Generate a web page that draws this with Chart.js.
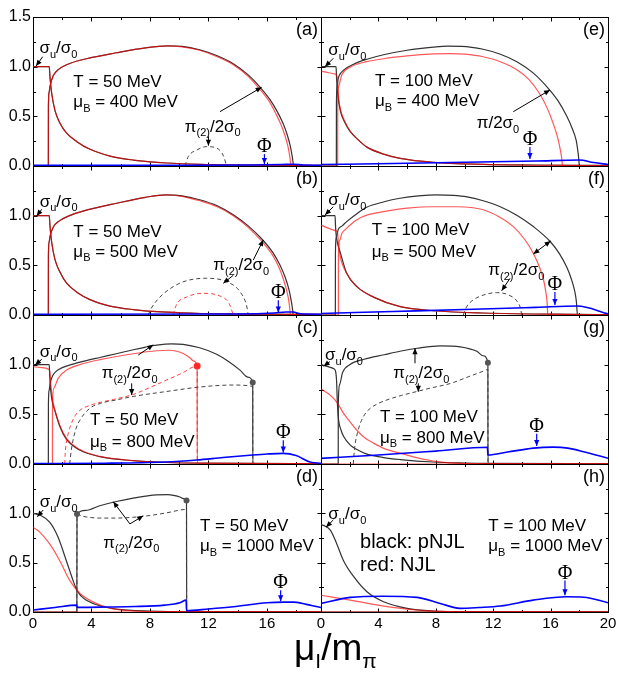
<!DOCTYPE html>
<html>
<head>
<meta charset="utf-8">
<script src="https://cdn.jsdelivr.net/npm/chart.js@4.4.1/dist/chart.umd.min.js"></script>
<style>
  html, body { margin: 0; padding: 0; background: #fff; width: 618px; height: 675px; overflow: hidden; }
  #fig { position: relative; width: 618px; height: 675px; }
  #fig canvas { position: absolute; }
  #xtitle { position: absolute; left: 294px; top: 629px; font-family: 'Liberation Sans', Arial, sans-serif;
            font-size: 37px; line-height: 37px; color: #000; white-space: nowrap; }
  #xtitle span { font-size: 21px; position: relative; top: 8px; }
</style>
</head>
<body>
<div id="fig">
  <div id="xtitle">μ<span>I</span>/m<span>π</span></div>
</div>
<script>
// ---------------- axis ticks ----------------
const xTicks = [0, 4, 8, 12, 16, 20];
const yTicks = [0, 0.5, 1.0, 1.5];

// ---------------- panel parameters ----------------
const panelTags = ['(a)', '(b)', '(c)', '(d)', '(e)', '(f)', '(g)', '(h)'];
const T_MeV   = [50, 50, 50, 50, 100, 100, 100, 100];
const muB_MeV = [400, 500, 800, 1000, 400, 500, 800, 1000];

// ---------------- (a) T = 50 MeV, muB = 400 MeV ----------------
const a_sigmaBlack = [[0,1.0],[1.11,1.0],[1.16,0.9],[1.28,0.73],[1.5,0.56],[1.85,0.43],[2.3,0.33],[3.0,0.245],[3.9,0.168],[5.27,0.10],[6.86,0.06],[9.15,0.03],[11.5,0.016],[14,0.01],[17.8,0.006],[20,0.006]];
const a_sigmaRed   = [[0,1.0],[1.11,1.0],[1.16,0.9],[1.28,0.73],[1.5,0.56],[1.85,0.43],[2.3,0.33],[3.0,0.245],[3.9,0.168],[5.27,0.10],[6.86,0.06],[9.15,0.03],[11.5,0.016],[14,0.01],[17.65,0.006],[20,0.006]];
const a_piBlack = [[0,0],[1.05,0],[1.055,0.6],[1.1,0.74],[1.16,0.8],[1.39,0.91],[1.73,0.97],[2.3,1.02],[3.66,1.08],[5.7,1.14],[7.7,1.19],[9.2,1.21],[10.2,1.205],[11.4,1.17],[12.6,1.11],[13.7,1.03],[14.7,0.92],[15.5,0.80],[16.2,0.67],[16.7,0.55],[17.1,0.43],[17.4,0.31],[17.6,0.2],[17.75,0.08],[17.83,0],[20,0]];
const a_piRed   = [[0,0],[1.05,0],[1.055,0.6],[1.1,0.74],[1.16,0.8],[1.39,0.91],[1.73,0.97],[2.3,1.02],[3.66,1.08],[5.7,1.14],[7.7,1.19],[9.2,1.21],[10.2,1.2],[11.4,1.165],[12.6,1.1],[13.7,1.02],[14.7,0.905],[15.5,0.775],[16.2,0.64],[16.6,0.53],[16.95,0.42],[17.25,0.3],[17.45,0.19],[17.58,0.08],[17.65,0],[20,0]];
const a_pi2Black = [[10.39,0],[10.62,0.094],[11.2,0.16],[11.87,0.195],[12.56,0.18],[13.0,0.11],[13.25,0]];
const a_phi = [[0,0.008],[10,0.008],[15,0.01],[17,0.015],[17.8,0.018],[18.5,0.01],[20,0.008]];

// ---------------- (b) T = 50 MeV, muB = 500 MeV ----------------
const b_sigmaBlack = [[0,1.0],[1.11,1.0],[1.16,0.9],[1.28,0.73],[1.5,0.56],[1.85,0.43],[2.3,0.32],[3.0,0.23],[3.9,0.155],[5.27,0.09],[6.86,0.055],[9.15,0.028],[11.5,0.015],[14,0.01],[17.8,0.006],[20,0.006]];
const b_sigmaRed   = [[0,1.0],[1.11,1.0],[1.16,0.9],[1.28,0.73],[1.5,0.56],[1.85,0.43],[2.3,0.32],[3.0,0.23],[3.9,0.155],[5.27,0.09],[6.86,0.055],[9.15,0.028],[11.5,0.015],[14,0.01],[17.6,0.006],[20,0.006]];
const b_piBlack = [[0,0],[1.05,0],[1.055,0.6],[1.1,0.73],[1.16,0.79],[1.37,0.88],[1.83,0.95],[2.5,1.0],[3.42,1.045],[5.71,1.125],[7.7,1.185],[9.1,1.21],[10.2,1.2],[11.4,1.16],[12.6,1.1],[13.7,1.01],[14.7,0.9],[15.75,0.75],[16.4,0.63],[16.9,0.5],[17.25,0.38],[17.5,0.26],[17.68,0.13],[17.77,0.04],[17.8,0],[20,0]];
const b_piRed   = [[0,0],[1.05,0],[1.055,0.6],[1.1,0.73],[1.16,0.79],[1.37,0.88],[1.83,0.95],[2.5,1.0],[3.42,1.045],[5.71,1.125],[7.7,1.185],[9.1,1.21],[10.2,1.195],[11.4,1.15],[12.6,1.09],[13.7,1.0],[14.7,0.885],[15.75,0.725],[16.4,0.6],[16.85,0.47],[17.15,0.35],[17.38,0.23],[17.52,0.12],[17.58,0.04],[17.6,0],[20,0]];
const b_pi2Black = [[7.88,0],[8.1,0.07],[8.68,0.18],[9.59,0.285],[10.5,0.345],[11.87,0.37],[13.25,0.335],[14.16,0.235],[14.6,0.1],[14.73,0]];
const b_pi2Red   = [[9.59,0],[9.8,0.1],[10.5,0.18],[11.6,0.218],[12.8,0.19],[13.4,0.12],[13.7,0]];
const b_phi = [[0,0.008],[14,0.01],[16.5,0.02],[17.3,0.03],[17.8,0.03],[18.3,0.012],[20,0.008]];

// ---------------- (c) T = 50 MeV, muB = 800 MeV ----------------
const c_sigmaBlack = [[0,1.0],[1.11,1.0],[1.14,0.9],[1.2,0.76],[1.3,0.64],[1.49,0.54],[1.83,0.38],[2.28,0.25],[3.2,0.14],[4.57,0.074],[6.85,0.033],[9.14,0.015],[11.2,0.008],[20,0.004]];
const c_sigmaRed   = [[0,0.98],[0.6,0.97],[1.05,0.955],[1.15,0.93],[1.22,0.8],[1.3,0.68],[1.45,0.57],[1.83,0.39],[2.28,0.26],[3.2,0.145],[4.57,0.076],[6.85,0.034],[9.14,0.015],[11.23,0.008],[20,0.004]];
const c_piBlack = [[0,0],[1.05,0],[1.055,0.6],[1.1,0.74],[1.2,0.83],[1.35,0.89],[1.6,0.935],[2.0,0.97],[2.74,1.005],[3.5,1.035],[4.57,1.072],[5.7,1.11],[6.85,1.15],[7.7,1.177],[8.45,1.197],[9.5,1.21],[10.27,1.205],[11.4,1.17],[12.56,1.105],[13.4,1.03],[14.16,0.945],[14.7,0.875],[15.03,0.82],[15.035,0],[20,0]];
const c_piRed   = [[0,0],[1.33,0],[1.335,0.62],[1.42,0.76],[1.71,0.86],[2.28,0.945],[3.2,1.0],[4.57,1.05],[6.85,1.11],[8.45,1.14],[9.3,1.145],[9.82,1.135],[10.3,1.11],[10.73,1.07],[11.0,1.035],[11.23,0.987],[11.235,0],[20,0]];
const c_pi2Black = [[2.51,0],[2.6,0.12],[2.74,0.24],[2.95,0.36],[3.2,0.44],[3.88,0.56],[4.6,0.61],[5.71,0.645],[6.85,0.68],[9.14,0.73],[11.42,0.775],[13.7,0.795],[15.03,0.78],[15.035,0]];
const c_pi2Red   = [[2.17,0],[2.2,0.1],[2.28,0.21],[2.45,0.33],[2.63,0.41],[2.9,0.49],[3.2,0.54],[4.1,0.6],[5.5,0.65],[6.85,0.70],[8,0.77],[9.14,0.845],[10.2,0.915],[11.23,0.987],[11.235,0]];
const c_dotsBlack = [[15.03,0.82]];
const c_dotsRed   = [[11.23,0.987]];
const c_phi = [[0,0.005],[5,0.008],[9,0.02],[11.2,0.04],[13,0.065],[15.03,0.09],[16,0.1],[17.1,0.107],[18,0.085],[18.95,0.02],[20,0.005]];

// ---------------- (d) T = 50 MeV, muB = 1000 MeV ----------------
const d_sigmaBlack = [[0,1.0],[0.5,0.98],[1.14,0.91],[1.71,0.76],[2.28,0.52],[2.74,0.32],[3.0,0.22],[3.3,0.16],[3.65,0.12],[4.57,0.063],[5.7,0.03],[8,0.01],[11,0.003],[20,0.002]];
const d_sigmaRed   = [[0,0.86],[0.46,0.81],[1.14,0.69],[1.83,0.52],[2.51,0.32],[3.2,0.19],[4.13,0.10],[5.25,0.04],[6.5,0.015],[8,0.005],[20,0.002]];
const d_piBlack = [[0,0],[3.0,0],[3.01,0.994],[3.6,1.03],[4.57,1.077],[5.7,1.12],[6.85,1.155],[7.7,1.175],[8.45,1.188],[9.2,1.19],[9.7,1.18],[10.05,1.165],[10.3,1.15],[10.5,1.13],[10.51,0],[20,0]];
const d_piRed   = [[0,0],[20,0]];
const d_pi2Black = [[3.0,0],[3.01,0.994],[3.3,0.975],[3.65,0.963],[4.57,0.952],[5.7,0.952],[6.85,0.96],[8,0.978],[9.14,1.005],[10.5,1.04],[10.51,0]];
const d_dotsBlack = [[3.01,0.994],[10.5,1.13]];
const d_phi = [[0,0.02],[1.5,0.045],[3.0,0.07],[3.02,0.047],[5,0.05],[7,0.055],[9,0.07],[10.05,0.094],[10.48,0.12],[10.5,0.013],[12,0.03],[13.7,0.053],[16,0.094],[17.2,0.1],[17.8,0.1],[18.7,0.077],[19.7,0.045],[20,0.04]];

// ---------------- (e) T = 100 MeV, muB = 400 MeV ----------------
const e_sigmaBlack = [[0,1.0],[1.05,1.0],[1.08,0.9],[1.12,0.8],[1.16,0.73],[1.34,0.56],[1.69,0.43],[2.04,0.345],[2.62,0.26],[3.2,0.19],[4.36,0.12],[5.52,0.077],[7.84,0.037],[11.3,0.017],[15,0.01],[18,0.006],[20,0.005]];
const e_sigmaRed   = [[0,0.955],[0.5,0.94],[1.0,0.925],[1.12,0.9],[1.17,0.8],[1.22,0.7],[1.34,0.58],[1.69,0.44],[2.04,0.35],[2.62,0.26],[3.2,0.19],[4.36,0.12],[5.52,0.077],[7.84,0.037],[11.3,0.017],[16.83,0.006],[20,0.005]];
const e_piBlack = [[0,0],[1.07,0],[1.075,0.62],[1.12,0.8],[1.2,0.88],[1.35,0.93],[1.57,0.965],[2.27,1.025],[3.2,1.075],[4.36,1.12],[6.0,1.165],[7.84,1.197],[8.8,1.207],[9.8,1.205],[11.3,1.175],[12.5,1.125],[13.65,1.05],[14.8,0.935],[15.85,0.78],[16.5,0.66],[17.13,0.5],[17.5,0.38],[17.78,0.26],[17.9,0.15],[17.97,0.06],[18.0,0],[20,0]];
const e_piRed   = [[0,0],[1.16,0],[1.165,0.62],[1.22,0.8],[1.46,0.92],[2.04,0.995],[3.2,1.05],[4.36,1.08],[6,1.108],[7.84,1.128],[9,1.132],[10,1.126],[11.3,1.1],[12.5,1.05],[13.65,0.97],[14.5,0.87],[15.27,0.72],[15.8,0.57],[16.2,0.42],[16.5,0.28],[16.68,0.16],[16.79,0.06],[16.83,0],[20,0]];
const e_phi = [[0,0.015],[5,0.025],[10,0.037],[15,0.05],[18.0,0.06],[19,0.035],[20,0.015]];

// ---------------- (f) T = 100 MeV, muB = 500 MeV ----------------
const f_sigmaBlack = [[0,1.0],[0.98,1.0],[1.01,0.9],[1.06,0.8],[1.15,0.72],[1.32,0.64],[1.79,0.42],[2.5,0.285],[3.66,0.18],[5.52,0.084],[7.84,0.043],[11.3,0.02],[17.9,0.006],[20,0.004]];
const f_sigmaRed   = [[0,0.905],[0.5,0.875],[1.0,0.85],[1.15,0.83],[1.2,0.75],[1.27,0.65],[1.4,0.55],[1.79,0.42],[2.5,0.285],[3.66,0.18],[5.52,0.084],[7.84,0.043],[11.3,0.02],[15.8,0.008],[20,0.004]];
const f_piBlack = [[0,0],[1.0,0],[1.005,0.62],[1.06,0.78],[1.2,0.86],[1.5,0.9],[1.79,0.94],[2.5,1.02],[3.18,1.085],[4.4,1.14],[5.5,1.175],[6.8,1.2],[8.08,1.21],[9.2,1.205],[10.17,1.19],[11.3,1.15],[12.49,1.09],[13.7,1.0],[14.8,0.89],[15.97,0.74],[16.6,0.62],[17.13,0.48],[17.45,0.36],[17.68,0.24],[17.8,0.13],[17.87,0],[20,0]];
const f_piRed   = [[0,0],[1.21,0],[1.215,0.6],[1.3,0.75],[1.45,0.82],[1.69,0.86],[2.5,0.96],[3.3,1.01],[4.36,1.04],[6,1.075],[7.84,1.09],[9.5,1.09],[11.3,1.06],[12.4,0.99],[13.4,0.89],[14.2,0.76],[14.8,0.62],[15.2,0.49],[15.5,0.36],[15.68,0.22],[15.77,0.1],[15.8,0],[20,0]];
const f_pi2Black = [[9.92,0],[10.1,0.07],[10.5,0.14],[11.3,0.2],[12.24,0.225],[13.1,0.2],[13.7,0.13],[13.93,0.05],[13.98,0]];
const f_phi = [[0,0.015],[5,0.035],[10,0.055],[15,0.077],[17.87,0.09],[20,0.012]];

// ---------------- (g) T = 100 MeV, muB = 800 MeV ----------------
const g_sigmaBlack = [[0,1.0],[0.5,0.98],[0.88,0.96],[1.0,0.94],[1.08,0.85],[1.14,0.62],[1.22,0.45],[1.4,0.34],[1.57,0.28],[2.04,0.19],[2.5,0.145],[3.2,0.1],[4.36,0.065],[5.52,0.045],[7.8,0.02],[10,0.01],[11.63,0.006],[20,0.003]];
const g_sigmaRed   = [[0,0.755],[0.5,0.71],[0.88,0.66],[1.2,0.6],[1.57,0.51],[2.0,0.43],[2.5,0.34],[3.0,0.27],[3.66,0.21],[4.5,0.15],[5.52,0.11],[6.5,0.07],[7.84,0.03],[9,0.012],[10.5,0.004],[20,0.001]];
const g_piBlack = [[0,0],[1.2,0],[1.205,0.6],[1.3,0.8],[1.5,0.92],[2.0,1.0],[3.0,1.055],[4.4,1.1],[5.5,1.135],[6.7,1.165],[8.3,1.19],[9.7,1.18],[10.86,1.135],[11.3,1.09],[11.63,1.02],[11.635,0],[20,0]];
const g_piRed   = [[0,0],[20,0]];
const g_pi2Black = [[2.25,0],[2.3,0.1],[2.39,0.21],[2.55,0.32],[2.74,0.41],[3.05,0.5],[3.43,0.56],[4.0,0.61],[4.6,0.645],[5.6,0.69],[6.69,0.73],[7.8,0.77],[9.0,0.81],[10.3,0.88],[11.56,0.95],[11.63,0.955],[11.635,0]];
const g_dotsBlack = [[11.63,1.02]];
const g_phi = [[0,0.057],[4,0.09],[8,0.13],[11.6,0.168],[11.63,0.09],[13,0.12],[14.8,0.16],[16.2,0.17],[17.2,0.16],[18.3,0.124],[20,0.057]];

// ---------------- (h) T = 100 MeV, muB = 1000 MeV ----------------
const h_sigmaBlack = [[0,0.89],[0.65,0.83],[1.1,0.69],[1.57,0.52],[2.27,0.36],[3.2,0.205],[4.36,0.104],[6.0,0.037],[7.84,0.01],[10,0.003],[20,0.001]];
const h_sigmaRed   = [[0,0.17],[2.04,0.12],[4.36,0.06],[6.7,0.02],[9.0,0.005],[20,0]];
const h_piBlack = [[0,0],[20,0]];
const h_piRed   = [[0,0],[20,0]];
const h_phi = [[0,0.087],[2.04,0.148],[4.36,0.16],[6.7,0.148],[8.3,0.087],[9.7,0.037],[11,0.045],[12.5,0.06],[14.8,0.12],[17.1,0.154],[18.3,0.15],[20,0.094]];

// ---------------- styles ----------------
const SANS = "'Liberation Sans', Arial, Helvetica, sans-serif";
const SERIF = "'Liberation Serif', 'Times New Roman', serif";
const BLACK = '#333333';
const RED = 'rgba(255,0,0,0.66)';
const BLUE = '#0000ff';
const DASH_BLACK = '#444444';
const DASH_RED = 'rgba(255,30,30,0.85)';

// label shorthands
const SIG = ['σ', {sub: 'u'}, '/σ', {sub: '0'}];
const PI2 = ['π', {sub: '(2)'}, '/2σ', {sub: '0'}];
const tLine = i => ['T = ' + T_MeV[i] + ' MeV'];
const mLine = i => ['μ', {sub: 'B'}, ' = ' + muB_MeV[i] + ' MeV'];

// annotations (data coordinates of each panel)
const notes = [
  [ // (a)
    {t: 'text', x: 0.44, y: 1.138, parts: SIG},
    {t: 'arrow', x1: 0.66, y1: 1.10, x2: 0.21, y2: 1.006},
    {t: 'text', x: 2.76, y: 0.792, parts: tLine(0)},
    {t: 'text', x: 2.76, y: 0.59, parts: mLine(0)},
    {t: 'text', x: 10.38, y: 0.345, parts: PI2},
    {t: 'arrow', x1: 12.0, y1: 0.30, x2: 12.0, y2: 0.205},
    {t: 'arrow', x1: 12.79, y1: 0.547, x2: 15.64, y2: 0.792},
    {t: 'phi', x: 15.83, y: 0.14, y2: 0.02}
  ],
  [ // (b)
    {t: 'text', x: 0.46, y: 1.09, parts: SIG},
    {t: 'arrow', x1: 0.6, y1: 1.064, x2: 0.25, y2: 0.997},
    {t: 'text', x: 2.76, y: 0.788, parts: tLine(1)},
    {t: 'text', x: 2.76, y: 0.587, parts: mLine(1)},
    {t: 'text', x: 12.33, y: 0.453, parts: PI2},
    {t: 'arrow', x1: 13.7, y1: 0.40, x2: 13.02, y2: 0.319},
    {t: 'arrow', x1: 15.07, y1: 0.554, x2: 15.75, y2: 0.755},
    {t: 'phi', x: 16.78, y: 0.168, y2: 0.025}
  ],
  [ // (c)
    {t: 'text', x: 0.46, y: 1.08, parts: SIG},
    {t: 'arrow', x1: 0.6, y1: 1.054, x2: 0.14, y2: 0.997},
    {t: 'text', x: 4.7, y: 0.863, parts: PI2},
    {t: 'arrow', x1: 7.2, y1: 1.097, x2: 8.23, y2: 1.2},
    {t: 'arrow', x1: 6.75, y1: 0.812, x2: 6.75, y2: 0.695},
    {t: 'text', x: 3.9, y: 0.393, parts: tLine(2)},
    {t: 'text', x: 3.9, y: 0.174, parts: mLine(2)},
    {t: 'phi', x: 17.12, y: 0.259, y2: 0.115}
  ],
  [ // (d)
    {t: 'text', x: 0.46, y: 1.06, parts: SIG},
    {t: 'arrow', x1: 0.7, y1: 1.034, x2: 0.29, y2: 0.966},
    {t: 'text', x: 4.81, y: 0.651, parts: PI2},
    {t: 'arrow', x1: 6.63, y1: 0.893, x2: 5.49, y2: 1.118},
    {t: 'arrow', x1: 6.63, y1: 0.893, x2: 7.54, y2: 0.975},
    {t: 'text', x: 11.42, y: 0.826, parts: tLine(3)},
    {t: 'text', x: 11.42, y: 0.617, parts: mLine(3)},
    {t: 'phi', x: 16.94, y: 0.24, y2: 0.11}
  ],
  [ // (e)
    {t: 'text', x: 0.51, y: 1.117, parts: SIG},
    {t: 'arrow', x1: 0.86, y1: 1.084, x2: 0.28, y2: 1.0},
    {t: 'text', x: 3.76, y: 0.805, parts: tLine(4)},
    {t: 'text', x: 3.76, y: 0.604, parts: mLine(4)},
    {t: 'text', x: 10.85, y: 0.38, parts: ['π/2σ', {sub: '0'}]},
    {t: 'arrow', x1: 13.4, y1: 0.547, x2: 15.96, y2: 0.765},
    {t: 'phi', x: 14.56, y: 0.211, y2: 0.07}
  ],
  [ // (f)
    {t: 'text', x: 0.51, y: 1.107, parts: SIG},
    {t: 'arrow', x1: 0.86, y1: 1.09, x2: 0.28, y2: 1.007},
    {t: 'text', x: 3.53, y: 0.805, parts: tLine(5)},
    {t: 'text', x: 3.53, y: 0.587, parts: mLine(5)},
    {t: 'text', x: 11.66, y: 0.403, parts: PI2},
    {t: 'arrow', x1: 13.17, y1: 0.369, x2: 12.59, y2: 0.245},
    {t: 'arrow', x1: 14.8, y1: 0.615, x2: 16.0, y2: 0.745, both: true},
    {t: 'phi', x: 16.3, y: 0.252, y2: 0.1}
  ],
  [ // (g)
    {t: 'text', x: 0.28, y: 1.047, parts: SIG},
    {t: 'arrow', x1: 0.62, y1: 1.03, x2: 0.18, y2: 0.985},
    {t: 'text', x: 5.04, y: 0.863, parts: PI2},
    {t: 'arrow', x1: 6.55, y1: 1.014, x2: 6.55, y2: 1.165},
    {t: 'arrow', x1: 6.78, y1: 0.812, x2: 6.78, y2: 0.728},
    {t: 'text', x: 4.11, y: 0.426, parts: tLine(6)},
    {t: 'text', x: 4.11, y: 0.215, parts: mLine(6)},
    {t: 'phi', x: 15.03, y: 0.325, y2: 0.18}
  ],
  [ // (h)
    {t: 'text', x: 0.51, y: 0.943, parts: SIG},
    {t: 'arrow', x1: 0.86, y1: 0.933, x2: 0.35, y2: 0.859},
    {t: 'text', x: 2.72, y: 0.651, parts: ['black: pNJL'], size: 20},
    {t: 'text', x: 2.72, y: 0.413, parts: ['red: NJL'], size: 20},
    {t: 'text', x: 11.66, y: 0.826, parts: tLine(7)},
    {t: 'text', x: 11.66, y: 0.617, parts: mLine(7)},
    {t: 'phi', x: 17.0, y: 0.339, y2: 0.17}
  ]
];

// ---------------- panel table ----------------
const panels = [
  {col: 0, row: 0, sB: a_sigmaBlack, sR: a_sigmaRed, pB: a_piBlack, pR: a_piRed, p2B: a_pi2Black, phi: a_phi},
  {col: 0, row: 1, sB: b_sigmaBlack, sR: b_sigmaRed, pB: b_piBlack, pR: b_piRed, p2B: b_pi2Black, p2R: b_pi2Red, phi: b_phi},
  {col: 0, row: 2, sB: c_sigmaBlack, sR: c_sigmaRed, pB: c_piBlack, pR: c_piRed, p2B: c_pi2Black, p2R: c_pi2Red, dB: c_dotsBlack, dR: c_dotsRed, phi: c_phi},
  {col: 0, row: 3, sB: d_sigmaBlack, sR: d_sigmaRed, pB: d_piBlack, pR: d_piRed, p2B: d_pi2Black, dB: d_dotsBlack, phi: d_phi},
  {col: 1, row: 0, sB: e_sigmaBlack, sR: e_sigmaRed, pB: e_piBlack, pR: e_piRed, phi: e_phi},
  {col: 1, row: 1, sB: f_sigmaBlack, sR: f_sigmaRed, pB: f_piBlack, pR: f_piRed, p2B: f_pi2Black, phi: f_phi},
  {col: 1, row: 2, sB: g_sigmaBlack, sR: g_sigmaRed, pB: g_piBlack, pR: g_piRed, p2B: g_pi2Black, dB: g_dotsBlack, phi: g_phi},
  {col: 1, row: 3, sB: h_sigmaBlack, sR: h_sigmaRed, pB: h_piBlack, pR: h_piRed, phi: h_phi}
];

// ---------------- geometry of the 2 x 4 grid ----------------
const COL_L = [33, 321], COL_R = [321, 608];
const ROW_T = [17, 166, 315, 464], ROW_B = [166, 315, 464, 612];
const X_MAX = [19.7, 20];

// ---------------- helpers ----------------
function curve(data, color, width, dash) {
  return {
    data: data.map(p => ({x: p[0], y: p[1]})),
    borderColor: color, borderWidth: width, borderDash: dash || [],
    borderJoinStyle: 'round', pointRadius: 0, fill: false,
    cubicInterpolationMode: 'monotone', showLine: true
  };
}
function dots(data, color, r) {
  return {
    data: data.map(p => ({x: p[0], y: p[1]})),
    showLine: false, pointRadius: r, pointBackgroundColor: color,
    pointBorderColor: color, pointBorderWidth: 0, borderColor: color
  };
}
function drawRich(ctx, x, y, parts, size, align) {
  const big = size + 'px ' + SANS;
  const small = Math.round(size * 0.65) + 'px ' + SANS;
  let w = 0;
  parts.forEach(p => {
    const sub = typeof p !== 'string';
    ctx.font = sub ? small : big;
    w += ctx.measureText(sub ? p.sub : p).width;
  });
  let cx = align === 'right' ? x - w : x;
  parts.forEach(p => {
    const sub = typeof p !== 'string';
    const s = sub ? p.sub : p;
    ctx.font = sub ? small : big;
    ctx.fillText(s, cx, sub ? y + size * 0.27 : y);
    cx += ctx.measureText(s).width;
  });
}
function arrowHead(ctx, x1, y1, x2, y2, len, half) {
  const a = Math.atan2(y2 - y1, x2 - x1);
  const c = Math.cos(a), s = Math.sin(a);
  ctx.beginPath();
  ctx.moveTo(x2, y2);
  ctx.lineTo(x2 - len * c + half * s, y2 - len * s - half * c);
  ctx.lineTo(x2 - len * c - half * s, y2 - len * s + half * c);
  ctx.closePath();
  ctx.fill();
}
function arrow(ctx, x1, y1, x2, y2, color, both, width) {
  ctx.strokeStyle = color; ctx.fillStyle = color; ctx.lineWidth = width || 1;
  ctx.beginPath(); ctx.moveTo(x1, y1); ctx.lineTo(x2, y2); ctx.stroke();
  arrowHead(ctx, x1, y1, x2, y2, 6, 2.6);
  if (both) arrowHead(ctx, x2, y2, x1, y1, 6, 2.6);
}

// frame with inward major / minor ticks on all four sides
const framePlugin = {
  id: 'frame',
  beforeDatasetsDraw(chart) {
    const {ctx, chartArea: a, scales: {x, y}} = chart;
    const L = Math.round(a.left) + 0.5, R = Math.round(a.right) + 0.5;
    const T = Math.round(a.top) + 0.5, B = Math.round(a.bottom) + 0.5;
    ctx.save();
    ctx.strokeStyle = '#000'; ctx.lineWidth = 1;
    ctx.strokeRect(L, T, R - L, B - T);
    ctx.beginPath();
    for (let v = 0; v <= x.max + 1e-9; v += 2) {
      const px = Math.round(x.getPixelForValue(v)) + 0.5;
      const len = v % 4 === 0 ? 4 : 2.5;
      ctx.moveTo(px, B); ctx.lineTo(px, B - len);
      ctx.moveTo(px, T); ctx.lineTo(px, T + len);
    }
    for (let i = 0; i <= 6; i++) {
      const py = Math.round(y.getPixelForValue(i * 0.25)) + 0.5;
      const len = i % 2 === 0 ? 4 : 2.5;
      ctx.moveTo(L, py); ctx.lineTo(L + len, py);
      ctx.moveTo(R, py); ctx.lineTo(R - len, py);
    }
    ctx.stroke();
    ctx.restore();
  }
};

function notesPlugin(idx) {
  return {
    id: 'notes' + idx,
    afterDatasetsDraw(chart) {
      const {ctx, scales: {x, y}} = chart;
      const X = v => x.getPixelForValue(v), Y = v => y.getPixelForValue(v);
      ctx.save();
      ctx.textBaseline = 'alphabetic';
      ctx.fillStyle = '#000';
      notes[idx].forEach(n => {
        if (n.t === 'text') {
          ctx.fillStyle = '#000';
          drawRich(ctx, X(n.x), Y(n.y), n.parts, n.size || 17, 'left');
        } else if (n.t === 'arrow') {
          arrow(ctx, X(n.x1), Y(n.y1), X(n.x2), Y(n.y2), '#000', n.both, 1);
        } else if (n.t === 'phi') {
          ctx.fillStyle = '#000';
          ctx.font = '20px ' + SERIF;
          ctx.textAlign = 'center';
          ctx.fillText('Φ', X(n.x), Y(n.y));
          ctx.textAlign = 'left';
          arrow(ctx, X(n.x), Y(n.y) + 2, X(n.x), Y(n.y2), BLUE, false, 1.2);
        }
      });
      // panel tag in the upper right corner
      ctx.fillStyle = '#000';
      drawRich(ctx, chart.chartArea.right - 3, chart.chartArea.top + 18, [panelTags[idx]], 18, 'right');
      ctx.restore();
    }
  };
}

// ---------------- build the eight panels ----------------
const fig = document.getElementById('fig');
panels.forEach((p, idx) => {
  const yW = p.col === 0 ? 33 : 0;
  const xH = p.row === 3 ? 26 : 0;
  const padL = p.col === 0 ? 0 : 14, padR = 14, padT = 14, padB = p.row === 3 ? 2 : 14;
  const cLeft = COL_L[p.col] - yW - padL;
  const cTop = ROW_T[p.row] - padT;
  const w = COL_R[p.col] + padR - cLeft;
  const h = ROW_B[p.row] + xH + padB - cTop;
  const cv = document.createElement('canvas');
  cv.width = w; cv.height = h;
  cv.style.left = cLeft + 'px'; cv.style.top = cTop + 'px';
  cv.style.width = w + 'px'; cv.style.height = h + 'px';
  fig.insertBefore(cv, document.getElementById('xtitle'));

  // first dataset is painted last (on top)
  const ds = [curve(p.phi, BLUE, 1.6)];
  if (p.dR) ds.push(dots(p.dR, '#ff2a2a', 3.5));
  if (p.dB) ds.push(dots(p.dB, '#555555', 3));
  if (p.p2R) ds.push(curve(p.p2R, DASH_RED, 1, [4, 3]));
  ds.push(curve(p.pR, RED, 1.2));
  ds.push(curve(p.sR, RED, 1.2));
  if (p.p2B) ds.push(curve(p.p2B, DASH_BLACK, 1, [4, 3]));
  ds.push(curve(p.pB, BLACK, 1.2));
  ds.push(curve(p.sB, BLACK, 1.2));

  new Chart(cv, {
    type: 'line',
    data: {datasets: ds},
    options: {
      responsive: false, maintainAspectRatio: false, animation: false,
      devicePixelRatio: 1, events: [],
      layout: {padding: {left: padL, right: padR, top: padT, bottom: padB}},
      plugins: {legend: {display: false}, tooltip: {enabled: false}},
      scales: {
        x: {
          type: 'linear', min: 0, max: X_MAX[p.col], display: p.row === 3,
          grid: {display: false, drawTicks: false}, border: {display: false},
          afterBuildTicks: s => { s.ticks = xTicks.filter(v => v <= s.max + 1e-9).map(v => ({value: v})); },
          ticks: {font: {family: SANS, size: 15}, color: '#000', padding: 3, maxRotation: 0, autoSkip: false,
                  callback: v => String(v)},
          afterFit: s => { s.height = xH; }
        },
        y: {
          type: 'linear', min: 0, max: 1.5, display: p.col === 0,
          grid: {display: false, drawTicks: false}, border: {display: false},
          afterBuildTicks: s => { s.ticks = yTicks.map(v => ({value: v})); },
          ticks: {font: {family: SANS, size: 16}, color: '#000', padding: 2,
                  callback: v => (p.row > 0 && v === 1.5) ? '' : v.toFixed(1)},
          afterFit: s => { s.width = yW; }
        }
      }
    },
    plugins: [framePlugin, notesPlugin(idx)]
  });
});
</script>
</body>
</html>
